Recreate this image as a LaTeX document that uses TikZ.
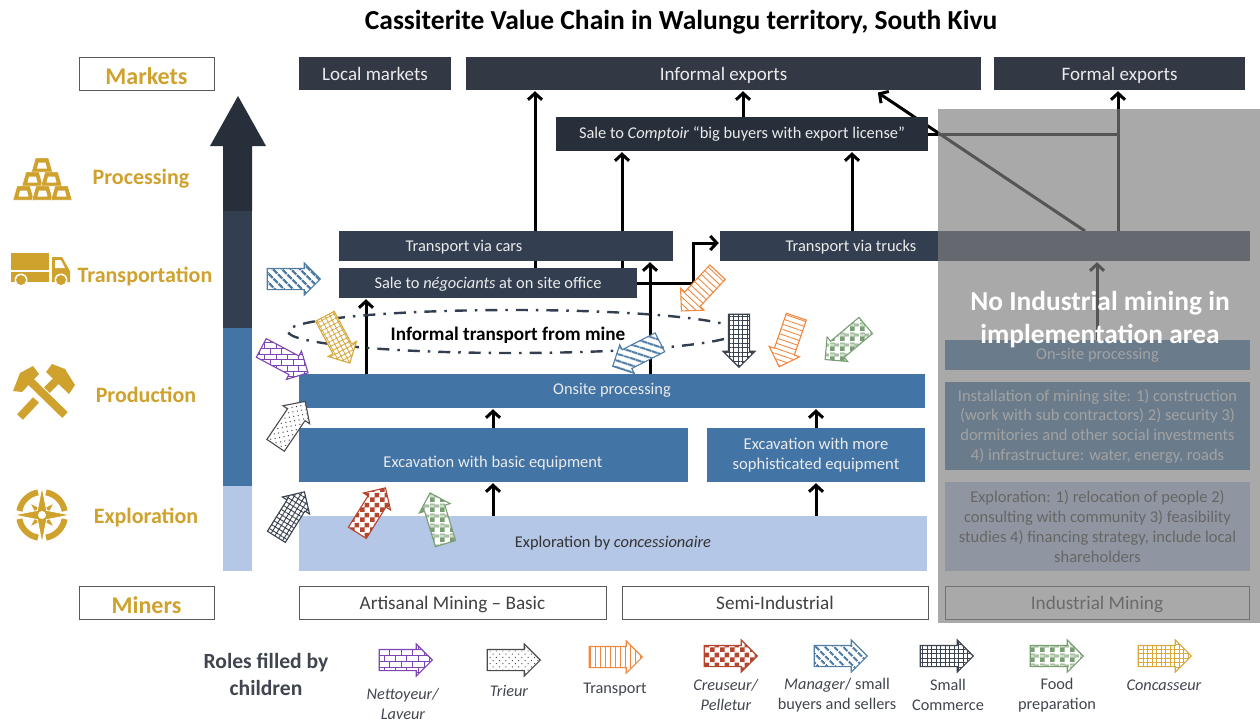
\documentclass[tikz,border=0pt]{standalone}
\usepackage{fontspec}
\setmainfont{Carlito}
\usetikzlibrary{positioning}
\usetikzlibrary{arrows.meta}
\usetikzlibrary{shapes.geometric}
\usetikzlibrary{shapes.arrows}
\usetikzlibrary{patterns}
\usetikzlibrary{patterns.meta}
\definecolor{goldText}{HTML}{CFA22E}
\definecolor{marketDark}{HTML}{333845}
\definecolor{slateDark}{HTML}{333F50}
\definecolor{nightDark}{HTML}{262F3A}
\definecolor{steelBlue}{HTML}{4274A5}
\definecolor{paleBlue}{HTML}{B4C7E7}
\definecolor{legendText}{HTML}{404550}
\definecolor{panelGray}{HTML}{7F7F7F}
\definecolor{nettoyeurCol}{HTML}{7E45B5}
\definecolor{trieurCol}{HTML}{4A4A50}
\definecolor{transportCol}{HTML}{F0883E}
\definecolor{creuseurCol}{HTML}{B5452C}
\definecolor{managerCol}{HTML}{4F7CA5}
\definecolor{commerceCol}{HTML}{3A4250}
\definecolor{foodCol}{HTML}{7A9E74}
\definecolor{concasseurCol}{HTML}{D6A93C}
\pgfdeclarepatternformonly{coarseCheck}{\pgfpoint{0pt}{0pt}}{\pgfpoint{10pt}{10pt}}{\pgfpoint{10pt}{10pt}}{%
  \pgfpathrectangle{\pgfpoint{0pt}{0pt}}{\pgfpoint{5pt}{5pt}}%
  \pgfpathrectangle{\pgfpoint{5pt}{5pt}}{\pgfpoint{5pt}{5pt}}%
  \pgfusepath{fill}%
}
\pgfdeclarepatternformonly{foodCheck}{\pgfpoint{0pt}{0pt}}{\pgfpoint{10pt}{10pt}}{\pgfpoint{10pt}{10pt}}{%
  \pgfpathrectangle{\pgfpoint{0pt}{0pt}}{\pgfpoint{5pt}{5pt}}%
  \pgfpathrectangle{\pgfpoint{5pt}{5pt}}{\pgfpoint{5pt}{1pt}}%
  \pgfpathrectangle{\pgfpoint{5pt}{7pt}}{\pgfpoint{5pt}{1pt}}%
  \pgfpathrectangle{\pgfpoint{0pt}{6pt}}{\pgfpoint{5pt}{1pt}}%
  \pgfpathrectangle{\pgfpoint{0pt}{8pt}}{\pgfpoint{5pt}{1pt}}%
  \pgfusepath{fill}%
}
\pgfdeclarelayer{back}
\pgfsetlayers{back,main}
\tikzset{
  barNode/.style={%
    rectangle, inner sep=0pt, text=white!92!black,
    font=\fontsize{16.4}{19.7}\selectfont, align=center,
  },
  marketBar/.style={%
    barNode, fill=marketDark, minimum height=33, text height=13, text depth=0pt,
    font=\fontsize{19}{22}\selectfont,
  },
  slateBar/.style={barNode, fill=slateDark, minimum height=30},
  steelBar/.style={barNode, fill=steelBlue},
  paleBar/.style={barNode, fill=paleBlue, text=black!80},
  whiteBox/.style={%
    rectangle, draw=black!65, line width=1, inner sep=0pt, minimum height=33,
    text=black!75, font=\fontsize{19.2}{22}\selectfont, text height=13, text depth=0pt,
  },
  stageBox/.style={%
    whiteBox, minimum width=135, text=goldText, text height=22,
    font=\fontsize{24}{26}\bfseries\selectfont,
  },
  stageLabel/.style={%
    inner sep=0pt, text=goldText, font=\fontsize{22}{24}\bfseries\selectfont,
  },
  flowArrow/.style={%
    -{Straight Barb[length=6.5,width=14]}, line width=3, black, shorten >=1,
  },
  flowLine/.style={line width=3, black},
  legendLabel/.style={%
    inner sep=0pt, text=legendText, align=center,
    font=\fontsize{16.3}{20}\selectfont,
  },
  roleArrow/.style={%
    single arrow, single arrow head extend=5.5, minimum height=53,
    inner xsep=0pt, inner ysep=10pt, line width=1.1, fill=white, rotate=#1, xshift=-4.5,
  },
  nettoyeurArrow/.style={%
    roleArrow=#1, draw=nettoyeurCol,
    postaction={pattern=bricks, pattern color=nettoyeurCol},
  },
  trieurArrow/.style={%
    roleArrow=#1, draw=trieurCol,
    postaction={pattern={Dots[radius=0.7,distance=4.5,angle=#1+45]}, pattern color=trieurCol},
  },
  transportArrow/.style={%
    roleArrow=#1, draw=transportCol,
    postaction={pattern={Lines[angle=#1+90,distance=5,line width=0.9]}, pattern color=transportCol},
  },
  creuseurArrow/.style={%
    roleArrow=#1, draw=creuseurCol,
    postaction={pattern=coarseCheck, pattern color=creuseurCol},
  },
  managerArrow/.style={%
    roleArrow=#1, draw=managerCol,
    postaction={pattern={Lines[angle=#1-45,distance=6.5,line width=2.4]}, pattern color=managerCol},
  },
  commerceArrow/.style={%
    roleArrow=#1, draw=commerceCol,
    postaction={pattern={Hatch[angle=#1,distance=4.5,line width=0.9]}, pattern color=commerceCol},
  },
  foodArrow/.style={%
    roleArrow=#1, draw=foodCol,
    postaction={pattern=foodCheck, pattern color=foodCol},
  },
  concasseurArrow/.style={%
    roleArrow=#1, draw=concasseurCol,
    postaction={pattern={Hatch[angle=#1,distance=4.5,line width=0.8]}, pattern color=concasseurCol},
  },
}

\begin{document}
\begin{tikzpicture}[x=1pt,y=-1pt]

  \useasboundingbox (0,0) rectangle (1260,721);

  \node[inner sep=0pt,font=\fontsize{27.5}{30}\bfseries\selectfont] (title) at (681,22) {Cassiterite Value Chain in Walungu territory, South Kivu};

  % side column
  \node[stageBox] (markets) at (146.5,73.5) {Markets};
  \node[stageBox] (miners) at (146.5,602.5) {Miners};
  \node[stageLabel] (processing) at (141,179) {Processing};
  \node[stageLabel] (transportation) at (145,276) {Transportation};
  \node[stageLabel] (production) at (146,395) {Production};
  \node[stageLabel] (exploration) at (146,517) {Exploration};

  \fill[nightDark] (238,96) -- (266,146) -- (252,146) -- (252,211) -- (223,211) -- (223,146) -- (210,146) -- cycle;
  \fill[slateDark] (223,211) rectangle (252,328);
  \fill[steelBlue] (223,328) rectangle (252,486);
  \fill[paleBlue] (223,486) rectangle (252,571);

  % gold bars
  \foreach \x/\y in {42/158,32.5/172,51.5/172,23.5/186,42.5/186,61.5/186} {
    \fill[goldText,draw=white,line width=0.4] (\x-10.5,\y+14) -- (\x-6.5,\y) -- (\x+6.5,\y) -- (\x+10.5,\y+14) -- cycle;
    \fill[white] (\x-5,\y+10.5) -- (\x-3.5,\y+4.5) -- (\x+3.5,\y+4.5) -- (\x+5,\y+10.5) -- cycle;
  }

  % truck
  \fill[goldText] (11,253) rectangle (49,270);
  \fill[goldText] (11,272) rectangle (49,282);
  \fill[goldText] (52,257) -- (62,257) -- (70,271) -- (70,282) -- (52,282) -- cycle;
  \fill[white] (55,260) -- (61,260) -- (65,268) -- (55,268) -- cycle;
  \foreach \x in {21,61} {
    \fill[white] (\x,280) circle (6.5);
    \fill[goldText] (\x,280) circle (5);
  }

  % hammers
  \draw[goldText,line width=8] (65,415) -- (28,379);
  \fill[goldText] (13,391) -- (20,373) -- (33,366) -- (39,374) -- (22,392) -- cycle;
  \draw[goldText,line width=8] (20,417) -- (36,400);
  \draw[goldText,line width=8] (47,390) -- (56,381);
  \fill[goldText] (46,372) -- (52,364) -- (65,369) -- (75,385) -- (69,394) -- cycle;

  % compass
  \begin{scope}[shift={(42,515)}]
    \foreach \a in {0,90,180,270} {
      \draw[goldText,line width=6] (\a+10:23) arc[start angle=\a+10,end angle=\a+80,radius=23];
    }
    \fill[goldText,draw=white,line width=0.8] (45:17) -- (90:6) -- (135:17) -- (180:6) -- (225:17) -- (270:6) -- (315:17) -- (0:6) -- cycle;
    \fill[goldText,draw=white,line width=0.8] (0:28) -- (45:6.5) -- (90:28) -- (135:6.5) -- (180:28) -- (225:6.5) -- (270:28) -- (315:6.5) -- cycle;
    \fill[white] (0,0) circle (4);
  \end{scope}

  % value chain bars
  \node[marketBar,minimum width=152] (localMarkets) at (375,73.5) {Local markets};
  \node[marketBar,minimum width=515] (informalExports) at (723.5,73.5) {Informal exports};
  \node[marketBar,minimum width=251] (formalExports) at (1119.5,73.5) {Formal exports};
  \node[barNode,fill=nightDark,minimum width=372,minimum height=34] (comptoir) at (742,134) {Sale to \textit{Comptoir} “big buyers with export license”};
  \node[slateBar,minimum width=334] (cars) at (506,246) {};
  \node[barNode] (carsText) at (464,247) {Transport via cars};
  \node[slateBar,minimum width=298,text height=11,text depth=1pt] (sale) at (488,283) {Sale to \textit{négociants} at on site office};
  \node[slateBar,minimum width=530] (trucks) at (985,246) {};
  \node[barNode] (trucksText) at (851,247) {Transport via trucks};
  \node[steelBar,minimum width=626,minimum height=34,text height=11,text depth=4pt] (onsite) at (612,391) {Onsite processing};
  \node[steelBar,minimum width=389,minimum height=54] (basicDig) at (493.5,455) {};
  \node[barNode,font=\fontsize{16.5}{19.7}\selectfont] (basicText) at (493,463) {Excavation with basic equipment};
  \node[steelBar,minimum width=218,minimum height=54,font=\fontsize{16.6}{19.7}\selectfont] (advancedDig) at (816,455) {Excavation with more\\sophisticated equipment};
  \node[paleBar,minimum width=628,minimum height=55] (concession) at (613,543.5) {Exploration by \textit{concessionaire}};

  \node[whiteBox,minimum width=307] (artisanal) at (452.5,602.5) {Artisanal Mining – Basic};
  \node[whiteBox,minimum width=306] (semiIndustrial) at (775,602.5) {Semi-Industrial};
  \node[whiteBox,minimum width=304] (industrial) at (1097,602.5) {Industrial Mining};

  \node[steelBar,minimum width=305,minimum height=30,text height=12,text depth=3pt] (siteProcessing) at (1097.5,355) {On-site processing};
  \node[steelBar,minimum width=305,minimum height=88,font=\fontsize{16.5}{19.7}\selectfont] (installation) at (1097.5,426) {Installation of mining site: 1) construction\\(work with sub contractors) 2) security 3)\\dormitories and other social investments\\4) infrastructure: water, energy, roads};
  \node[paleBar,minimum width=305,minimum height=89,font=\fontsize{16.5}{19.7}\selectfont] (concessionWork) at (1097.5,526.5) {Exploration: 1) relocation of people 2)\\consulting with community 3) feasibility\\studies 4) financing strategy, include local\\shareholders};

  \node[ellipse,draw=slateDark,line width=2.4,dash pattern=on 12 off 8 on 2.5 off 8,minimum width=450,minimum height=43,inner sep=0pt] (informalLoop) at (513,331.5) {};
  \node[inner sep=0pt,font=\fontsize{19.2}{22}\bfseries\selectfont] (informalText) at (508,335) {Informal transport from mine};

  % flows
  \coordinate (lineA) at (366,0);
  \coordinate (lineB) at (535,0);
  \coordinate (lineC) at (622,0);
  \coordinate (lineD) at (650,0);
  \coordinate (lineE) at (743,0);
  \coordinate (lineF) at (852,0);
  \coordinate (lineG) at (1118,0);
  \coordinate (lineH) at (1097,0);
  \coordinate (lineI) at (493,0);
  \coordinate (lineJ) at (816,0);
  \coordinate (elbowTop) at (693,243);
  \coordinate (elbowLow) at (693,283);
  \coordinate (diagStart) at (1085,231);
  \coordinate (mergePoint) at (1118,134);
  \coordinate (diagTip) at (877,92);

  \begin{pgfonlayer}{back}
    \draw[flowArrow] (concession.north -| lineI) -- (basicDig.south -| lineI);
    \draw[flowArrow] (concession.north -| lineJ) -- (advancedDig.south -| lineJ);
    \draw[flowArrow] (basicDig.north -| lineI) -- (onsite.south -| lineI);
    \draw[flowArrow] (advancedDig.north -| lineJ) -- (onsite.south -| lineJ);
    \draw[flowArrow] (onsite.north -| lineA) -- (sale.south -| lineA);
    \draw[flowArrow] (onsite.north -| lineD) -- (cars.south -| lineD);
    \draw[flowArrow] (sale.north -| lineB) -- (informalExports.south -| lineB);
    \draw[flowArrow] (sale.north -| lineC) -- (comptoir.south -| lineC);
    \draw[flowArrow] (comptoir.north -| lineE) -- (informalExports.south -| lineE);
    \draw[flowArrow] (trucks.north -| lineF) -- (comptoir.south -| lineF);
    \draw[flowArrow] (trucks.north -| lineG) -- (formalExports.south -| lineG);
    \draw[flowArrow] (siteProcessing.north -| lineH) -- (trucks.south -| lineH);
    \draw[flowLine] (comptoir.east |- mergePoint) -- (mergePoint);
    \draw[flowArrow] (diagStart) -- (diagTip);
    \draw[flowArrow] (sale.east |- elbowLow) -- (elbowLow) -- (elbowTop) -- (trucks.west |- elbowTop);
  \end{pgfonlayer}

  % roles on the chain
  \node[managerArrow=0] (managerA) at (293,279) {};
  \node[concasseurArrow=-62] (concasseurA) at (337,339) {};
  \node[nettoyeurArrow=-28] (nettoyeurA) at (284,360) {};
  \node[trieurArrow=56] (trieurA) at (290,424) {};
  \node[commerceArrow=58] (commerceA) at (290,515) {};
  \node[creuseurArrow=58] (creuseurA) at (371,511) {};
  \node[foodArrow=107] (foodA) at (438,519) {};
  \node[managerArrow=207] (managerB) at (637,354) {};
  \node[transportArrow=-133] (transportA) at (700,291) {};
  \node[commerceArrow=-90] (commerceB) at (739,340) {};
  \node[transportArrow=-109] (transportB) at (788,341) {};
  \node[foodArrow=-140] (foodB) at (846,342) {};

  % panel over the industrial side
  \node[rectangle,fill=panelGray,opacity=0.67,inner sep=0pt,minimum width=322,minimum height=514,anchor=north west] (noMiningPanel) at (938,109) {};
  \node[inner sep=0pt,text=white,align=center,font=\fontsize{27.4}{33}\bfseries\selectfont] (noMiningText) at (1100,320) {No Industrial mining in\\implementation area};

  % legend
  \node[inner sep=0pt,text=legendText,align=center,font=\fontsize{21.6}{27}\bfseries\selectfont] (rolesTitle) at (266,674.5) {Roles filled by\\children};
  \node[nettoyeurArrow=0] (nettoyeurKey) at (405,660) {};
  \node[trieurArrow=0] (trieurKey) at (513,660) {};
  \node[transportArrow=0] (transportKey) at (615,657) {};
  \node[creuseurArrow=0] (creuseurKey) at (730,656) {};
  \node[managerArrow=0] (managerKey) at (840,656) {};
  \node[commerceArrow=0] (commerceKey) at (946,656) {};
  \node[foodArrow=0] (foodKey) at (1056,656) {};
  \node[concasseurArrow=0] (concasseurKey) at (1164,656) {};

  \node[legendLabel] (nettoyeurName) at (403,703.5) {\textit{Nettoyeur/}\\\textit{Laveur}};
  \node[legendLabel] (trieurName) at (509,691) {\textit{Trieur}};
  \node[legendLabel] (transportName) at (615,690) {Transport};
  \node[legendLabel] (creuseurName) at (726,695) {\textit{Creuseur/}\\\textit{Pelletur}};
  \node[legendLabel] (managerName) at (837,695) {\textit{Manager}/ small\\buyers and sellers};
  \node[legendLabel] (commerceName) at (948,695) {Small\\Commerce};
  \node[legendLabel] (foodName) at (1057,695) {Food\\preparation};
  \node[legendLabel] (concasseurName) at (1164,685) {\textit{Concasseur}};

\end{tikzpicture}
\end{document}
